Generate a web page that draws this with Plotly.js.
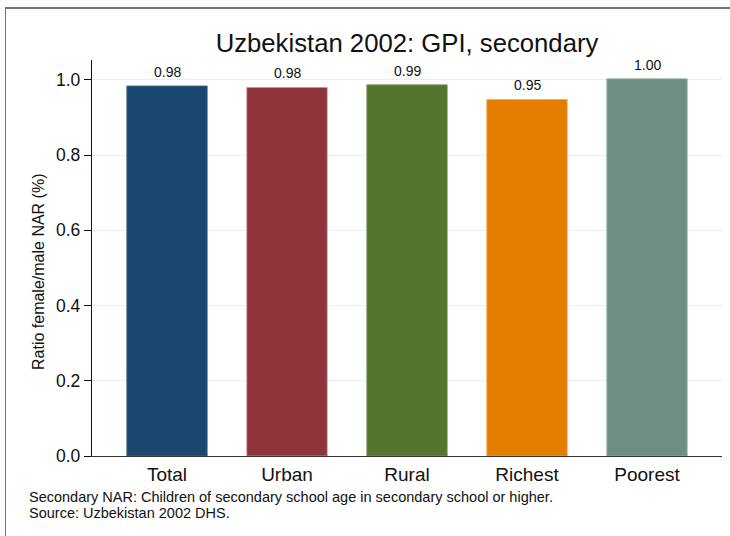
<!DOCTYPE html>
<html>
<head>
<meta charset="utf-8">
<script src="https://cdn.plot.ly/plotly-3.0.1.min.js"></script>
<style>
  html, body { margin: 0; padding: 0; background: #ffffff; }
  #wrap { position: relative; width: 730px; height: 536px; overflow: hidden; }
  #chart { width: 730px; height: 536px; }
  #frame { position: absolute; left: 5px; top: 7px; width: 730px; height: 540px;
           border-top: 2px solid #747474; border-left: 1px solid #747474; pointer-events: none; }
</style>
</head>
<body>
<div id="wrap">
  <div id="chart"></div>
  <div id="frame"></div>
</div>
<script>
const categories = ["Total", "Urban", "Rural", "Richest", "Poorest"];
const values = [0.984, 0.980, 0.987, 0.948, 1.003];
const barColors = ["#1a476f", "#90353b", "#55752f", "#e37e00", "#6e8e84"];
const edgeColors = ["#46698a", "#c8949a", "#7d9560", "#f0a850", "#9ab0a9"];
const yTickVals = [0, 0.2, 0.4, 0.6, 0.8, 1.0];
const yTickText = ["0.0", "0.2", "0.4", "0.6", "0.8", "1.0"];
const titleText = "Uzbekistan 2002: GPI, secondary";
const yTitle = "Ratio female/male NAR (%)";
const noteLines = ["Secondary NAR: Children of secondary school age in secondary school or higher.",
                   "Source: Uzbekistan 2002 DHS."];

const font = "Liberation Sans, Arial, sans-serif";
const W = 730, H = 536;
const M = { l: 92, r: 8, t: 60, b: 80 };
const PW = W - M.l - M.r, PH = H - M.t - M.b;
const px2x = (px) => (px - M.l) / PW;
const px2y = (py) => (H - M.b - py) / PH;

const trace = {
  type: "bar",
  x: categories,
  y: values,
  width: 0.67,
  marker: { color: barColors, line: { color: edgeColors, width: 0.8 } },
  hoverinfo: "skip"
};

const annotations = categories.map((c, i) => ({
  x: c, y: values[i], xref: "x", yref: "y",
  text: values[i].toFixed(2), showarrow: false,
  yanchor: "bottom", yshift: 4,
  font: { family: font, size: 14, color: "#111" }
}));

noteLines.forEach((line, i) => {
  annotations.push({
    xref: "paper", yref: "paper", x: px2x(26.5), y: px2y(496.5 + 16.5 * i),
    xanchor: "left", yanchor: "middle", align: "left", showarrow: false,
    text: line,
    font: { family: font, size: 14.5, color: "#111" }
  });
});

annotations.push({
  xref: "paper", yref: "paper", x: px2x(38), y: px2y(272),
  xanchor: "center", yanchor: "middle", textangle: -90, showarrow: false,
  text: yTitle,
  font: { family: font, size: 16, color: "#111" }
});

const layout = {
  width: W, height: H,
  margin: { l: M.l, r: M.r, t: M.t, b: M.b, pad: 0 },
  paper_bgcolor: "#ffffff", plot_bgcolor: "#ffffff",
  showlegend: false,
  title: { text: titleText, xref: "paper", x: 0.5, xanchor: "center", y: 1 - 43.5 / H, yanchor: "middle",
           font: { family: font, size: 25.7, color: "#111" } },
  xaxis: {
    type: "category", range: [-0.625, 4.625],
    showline: true, linecolor: "#333", linewidth: 1.3,
    ticks: "outside", ticklen: 1, tickcolor: "rgba(0,0,0,0)",
    showgrid: false, zeroline: false,
    tickfont: { family: font, size: 19, color: "#111" }
  },
  yaxis: {
    range: [0, 1.053], tickvals: yTickVals, ticktext: yTickText,
    showline: true, linecolor: "#111", linewidth: 1.2,
    ticks: "outside", ticklen: 7, tickcolor: "#111", tickwidth: 1,
    showgrid: true, gridcolor: "#e8eff2", gridwidth: 1, zeroline: false,
    tickfont: { family: font, size: 17.5, color: "#111" }
  },
  annotations: annotations
};

Plotly.newPlot("chart", [trace], layout, { staticPlot: true, displayModeBar: false });
</script>
</body>
</html>
